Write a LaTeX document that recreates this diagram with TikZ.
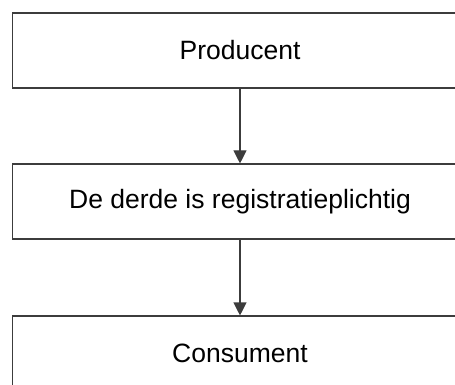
\documentclass[tikz,border=0pt]{standalone}
\usepackage{fontspec}
\setmainfont{Liberation Sans}
\usepackage{tikz}
\definecolor{gray800}{HTML}{3C3C3C}
\usetikzlibrary{arrows.meta}
\tikzstyle{blok}=[rectangle, draw=gray800, line width=1.1pt, minimum width=454.6pt, minimum height=75pt, inner sep=0pt, font=\fontsize{26.5}{30}\selectfont]
\tikzstyle{pijl}=[draw=gray800, line width=1.1pt, -{Triangle[length=13pt,width=13pt]}]

\begin{document}
\begin{tikzpicture}[x=1pt, y=1pt]
				\useasboundingbox (0,0) rectangle (455,-385);
				\node[blok] (prod) at (240,-50.5) {Producent};
				\node[blok] (derde) at (240,-201.5) {De derde is registratieplichtig};
				\node[blok] (cons) at (240,-353.5) {Consument};
				\path[pijl] (prod) -- (derde);
				\path[pijl] (derde) -- (cons);
			\end{tikzpicture}
\end{document}
